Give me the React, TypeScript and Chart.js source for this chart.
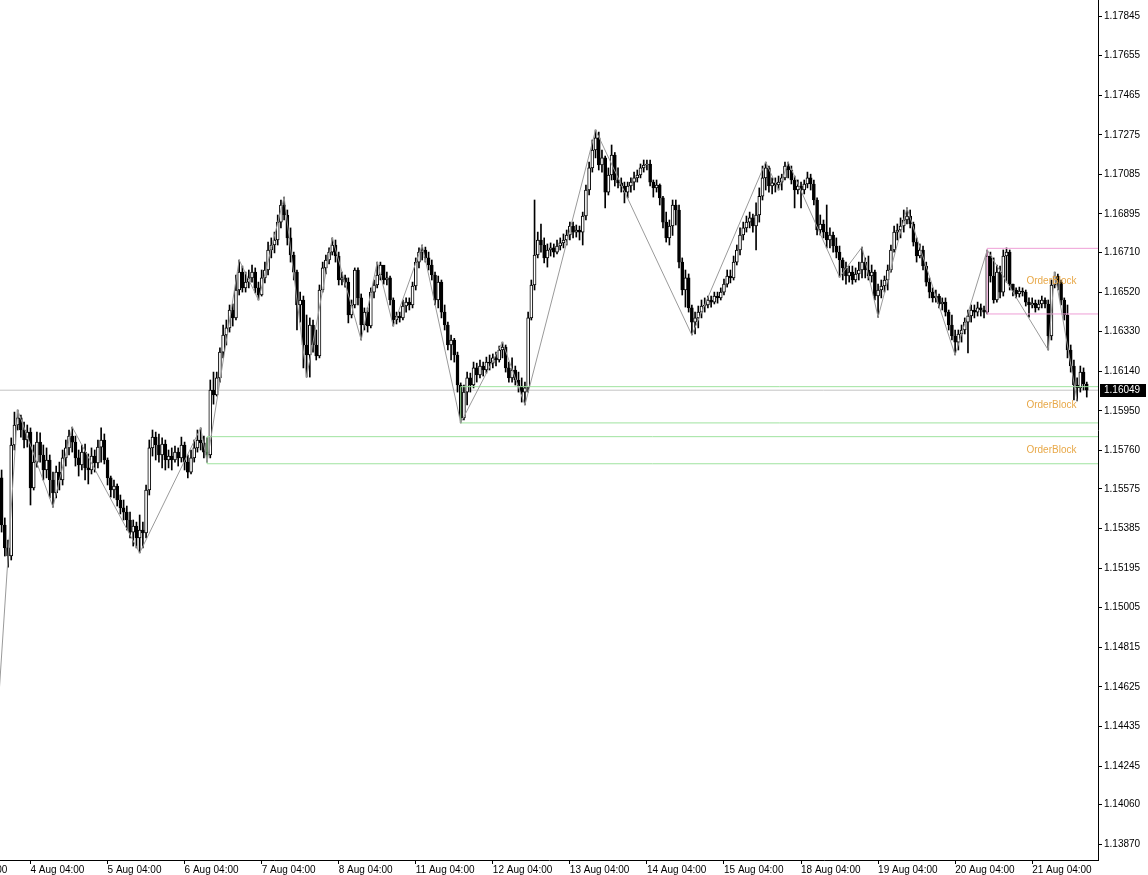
import React, { useEffect, useRef } from 'react';
import { Chart, registerables } from 'chart.js';

Chart.register(...registerables);

// EURUSD H1 candles (1 Aug 19:00 .. 21 Aug 21:00)
const firstOpen = 1.15628;
const closes = [
  1.15402, 1.15292, 1.15253, 1.15786, 1.15882, 1.15916, 1.15858, 1.15810, 1.15848, 1.15580,
  1.15704, 1.15800, 1.15738, 1.15666, 1.15714, 1.15618, 1.15556, 1.15656, 1.15618, 1.15724,
  1.15772, 1.15829, 1.15800, 1.15724, 1.15690, 1.15752, 1.15676, 1.15666, 1.15733, 1.15700,
  1.15776, 1.15810, 1.15714, 1.15628, 1.15570, 1.15589, 1.15522, 1.15484, 1.15464, 1.15426,
  1.15368, 1.15397, 1.15340, 1.15378, 1.15364, 1.15570, 1.15772, 1.15824, 1.15786, 1.15738,
  1.15791, 1.15714, 1.15733, 1.15714, 1.15752, 1.15724, 1.15786, 1.15704, 1.15656, 1.15724,
  1.15772, 1.15810, 1.15796, 1.15752, 1.15738, 1.16050, 1.16026, 1.16108, 1.16232, 1.16314,
  1.16348, 1.16434, 1.16396, 1.16530, 1.16616, 1.16540, 1.16568, 1.16588, 1.16616, 1.16540,
  1.16506, 1.16588, 1.16626, 1.16722, 1.16746, 1.16770, 1.16856, 1.16938, 1.16890, 1.16780,
  1.16698, 1.16616, 1.16458, 1.16482, 1.16266, 1.16218, 1.16362, 1.16266, 1.16213, 1.16530,
  1.16636, 1.16674, 1.16712, 1.16746, 1.16693, 1.16578, 1.16588, 1.16568, 1.16410, 1.16458,
  1.16626, 1.16492, 1.16362, 1.16424, 1.16357, 1.16520, 1.16554, 1.16602, 1.16650, 1.16578,
  1.16588, 1.16482, 1.16386, 1.16405, 1.16396, 1.16453, 1.16472, 1.16458, 1.16549, 1.16664,
  1.16712, 1.16722, 1.16684, 1.16650, 1.16602, 1.16482, 1.16568, 1.16424, 1.16362, 1.16266,
  1.16290, 1.16218, 1.16074, 1.15916, 1.16040, 1.16108, 1.16074, 1.16156, 1.16122, 1.16165,
  1.16146, 1.16184, 1.16179, 1.16204, 1.16194, 1.16242, 1.16256, 1.16156, 1.16108, 1.16146,
  1.16098, 1.16069, 1.16040, 1.16060, 1.16396, 1.16554, 1.16698, 1.16770, 1.16746, 1.16684,
  1.16722, 1.16732, 1.16712, 1.16741, 1.16756, 1.16770, 1.16794, 1.16837, 1.16808, 1.16818,
  1.16808, 1.16885, 1.17010, 1.17116, 1.17202, 1.17260, 1.17130, 1.17164, 1.17000, 1.17082,
  1.17178, 1.17058, 1.17044, 1.17029, 1.17000, 1.17029, 1.17048, 1.17068, 1.17082, 1.17116,
  1.17130, 1.17135, 1.17048, 1.17020, 1.17034, 1.16972, 1.16856, 1.16780, 1.16837, 1.16938,
  1.16914, 1.16664, 1.16530, 1.16588, 1.16444, 1.16376, 1.16396, 1.16424, 1.16453, 1.16458,
  1.16482, 1.16472, 1.16501, 1.16492, 1.16520, 1.16558, 1.16597, 1.16588, 1.16664, 1.16722,
  1.16794, 1.16828, 1.16856, 1.16876, 1.16837, 1.16890, 1.16980, 1.17068, 1.17116, 1.17029,
  1.17044, 1.17034, 1.17048, 1.17068, 1.17125, 1.17106, 1.17058, 1.17010, 1.17029, 1.17010,
  1.17039, 1.17068, 1.17039, 1.16962, 1.16818, 1.16847, 1.16808, 1.16770, 1.16794, 1.16741,
  1.16712, 1.16674, 1.16636, 1.16597, 1.16616, 1.16578, 1.16607, 1.16626, 1.16664, 1.16626,
  1.16597, 1.16616, 1.16501, 1.16530, 1.16549, 1.16578, 1.16626, 1.16722, 1.16808, 1.16818,
  1.16837, 1.16866, 1.16885, 1.16847, 1.16760, 1.16693, 1.16722, 1.16645, 1.16568, 1.16520,
  1.16492, 1.16501, 1.16463, 1.16472, 1.16424, 1.16362, 1.16309, 1.16280, 1.16319, 1.16338,
  1.16376, 1.16405, 1.16434, 1.16424, 1.16444, 1.16434, 1.16424, 1.16693, 1.16597, 1.16482,
  1.16616, 1.16520, 1.16693, 1.16712, 1.16558, 1.16530, 1.16511, 1.16525, 1.16520, 1.16472,
  1.16458, 1.16467, 1.16444, 1.16463, 1.16482, 1.16463, 1.16309, 1.16554, 1.16597, 1.16568,
  1.16482, 1.16410, 1.16242, 1.16165, 1.16074, 1.16060, 1.16136, 1.16079, 1.16049,
];
const highs = [
  1.15666, 1.15436, 1.15330, 1.15820, 1.15944, 1.15954, 1.15930, 1.15896, 1.15882, 1.15868,
  1.15786, 1.15848, 1.15844, 1.15786, 1.15772, 1.15738, 1.15656, 1.15685, 1.15704, 1.15762,
  1.15810, 1.15858, 1.15872, 1.15829, 1.15762, 1.15786, 1.15791, 1.15743, 1.15772, 1.15762,
  1.15810, 1.15868, 1.15839, 1.15724, 1.15637, 1.15618, 1.15599, 1.15546, 1.15522, 1.15493,
  1.15464, 1.15426, 1.15416, 1.15450, 1.15416, 1.15594, 1.15810, 1.15858, 1.15848, 1.15839,
  1.15820, 1.15810, 1.15762, 1.15772, 1.15781, 1.15772, 1.15824, 1.15800, 1.15738, 1.15762,
  1.15810, 1.15858, 1.15868, 1.15829, 1.15820, 1.16098, 1.16136, 1.16136, 1.16252, 1.16362,
  1.16386, 1.16458, 1.16463, 1.16602, 1.16674, 1.16645, 1.16616, 1.16626, 1.16650, 1.16636,
  1.16568, 1.16626, 1.16664, 1.16760, 1.16780, 1.16808, 1.16890, 1.16962, 1.16976, 1.16914,
  1.16828, 1.16712, 1.16626, 1.16520, 1.16501, 1.16410, 1.16396, 1.16386, 1.16338, 1.16554,
  1.16664, 1.16698, 1.16732, 1.16780, 1.16770, 1.16712, 1.16616, 1.16602, 1.16588, 1.16482,
  1.16636, 1.16636, 1.16511, 1.16444, 1.16444, 1.16540, 1.16578, 1.16664, 1.16664, 1.16645,
  1.16616, 1.16597, 1.16492, 1.16424, 1.16424, 1.16482, 1.16492, 1.16492, 1.16568, 1.16684,
  1.16732, 1.16746, 1.16736, 1.16712, 1.16674, 1.16616, 1.16597, 1.16578, 1.16458, 1.16376,
  1.16314, 1.16298, 1.16232, 1.16084, 1.16074, 1.16136, 1.16131, 1.16184, 1.16179, 1.16194,
  1.16184, 1.16208, 1.16218, 1.16223, 1.16232, 1.16261, 1.16280, 1.16266, 1.16184, 1.16204,
  1.16165, 1.16136, 1.16108, 1.16088, 1.16424, 1.16578, 1.16962, 1.16808, 1.16847, 1.16780,
  1.16751, 1.16756, 1.16751, 1.16770, 1.16780, 1.16799, 1.16818, 1.16856, 1.16856, 1.16842,
  1.16837, 1.16904, 1.17034, 1.17144, 1.17250, 1.17298, 1.17288, 1.17202, 1.17173, 1.17116,
  1.17226, 1.17190, 1.17116, 1.17068, 1.17048, 1.17048, 1.17068, 1.17096, 1.17106, 1.17135,
  1.17154, 1.17154, 1.17154, 1.17058, 1.17058, 1.17039, 1.16980, 1.16904, 1.16866, 1.16962,
  1.16962, 1.16938, 1.16684, 1.16626, 1.16607, 1.16458, 1.16424, 1.16453, 1.16482, 1.16492,
  1.16501, 1.16501, 1.16520, 1.16520, 1.16540, 1.16583, 1.16626, 1.16626, 1.16693, 1.16746,
  1.16828, 1.16856, 1.16885, 1.16904, 1.16895, 1.16948, 1.17020, 1.17125, 1.17144, 1.17125,
  1.17068, 1.17068, 1.17077, 1.17086, 1.17144, 1.17144, 1.17125, 1.17077, 1.17058, 1.17048,
  1.17058, 1.17096, 1.17086, 1.17058, 1.16972, 1.16890, 1.16866, 1.16938, 1.16828, 1.16808,
  1.16780, 1.16741, 1.16684, 1.16664, 1.16645, 1.16645, 1.16636, 1.16664, 1.16736, 1.16684,
  1.16693, 1.16650, 1.16626, 1.16558, 1.16578, 1.16597, 1.16650, 1.16746, 1.16837, 1.16847,
  1.16876, 1.16914, 1.16924, 1.16914, 1.16856, 1.16780, 1.16751, 1.16741, 1.16664, 1.16588,
  1.16540, 1.16530, 1.16511, 1.16492, 1.16492, 1.16434, 1.16410, 1.16338, 1.16338, 1.16362,
  1.16396, 1.16434, 1.16458, 1.16458, 1.16472, 1.16463, 1.16453, 1.16722, 1.16712, 1.16684,
  1.16650, 1.16645, 1.16722, 1.16732, 1.16722, 1.16558, 1.16540, 1.16544, 1.16540, 1.16530,
  1.16492, 1.16492, 1.16482, 1.16482, 1.16501, 1.16492, 1.16482, 1.16578, 1.16616, 1.16607,
  1.16578, 1.16492, 1.16458, 1.16266, 1.16194, 1.16108, 1.16165, 1.16156, 1.16088,
];
const lows = [
  1.15368, 1.15253, 1.15200, 1.15234, 1.15762, 1.15858, 1.15824, 1.15772, 1.15776, 1.15498,
  1.15570, 1.15680, 1.15704, 1.15618, 1.15628, 1.15532, 1.15488, 1.15532, 1.15570, 1.15594,
  1.15685, 1.15738, 1.15752, 1.15685, 1.15637, 1.15666, 1.15618, 1.15599, 1.15647, 1.15656,
  1.15676, 1.15704, 1.15695, 1.15594, 1.15536, 1.15532, 1.15493, 1.15455, 1.15426, 1.15378,
  1.15340, 1.15301, 1.15292, 1.15268, 1.15292, 1.15340, 1.15546, 1.15733, 1.15714, 1.15704,
  1.15676, 1.15666, 1.15676, 1.15666, 1.15704, 1.15685, 1.15704, 1.15666, 1.15628, 1.15647,
  1.15704, 1.15752, 1.15762, 1.15724, 1.15704, 1.15724, 1.15982, 1.16021, 1.16088, 1.16204,
  1.16266, 1.16328, 1.16357, 1.16386, 1.16506, 1.16520, 1.16520, 1.16540, 1.16568, 1.16516,
  1.16482, 1.16501, 1.16564, 1.16602, 1.16684, 1.16708, 1.16746, 1.16828, 1.16866, 1.16746,
  1.16664, 1.16578, 1.16338, 1.16376, 1.16156, 1.16112, 1.16112, 1.16232, 1.16194, 1.16204,
  1.16520, 1.16607, 1.16655, 1.16698, 1.16664, 1.16554, 1.16554, 1.16544, 1.16372, 1.16396,
  1.16444, 1.16458, 1.16290, 1.16338, 1.16328, 1.16348, 1.16492, 1.16540, 1.16578, 1.16558,
  1.16554, 1.16458, 1.16357, 1.16367, 1.16376, 1.16386, 1.16424, 1.16434, 1.16444, 1.16530,
  1.16636, 1.16674, 1.16664, 1.16626, 1.16578, 1.16458, 1.16444, 1.16396, 1.16338, 1.16242,
  1.16194, 1.16184, 1.16040, 1.15892, 1.15906, 1.15978, 1.16040, 1.16060, 1.16088, 1.16108,
  1.16117, 1.16131, 1.16146, 1.16156, 1.16165, 1.16184, 1.16204, 1.16136, 1.16088, 1.16088,
  1.16074, 1.16040, 1.15992, 1.15978, 1.16040, 1.16386, 1.16530, 1.16684, 1.16712, 1.16660,
  1.16640, 1.16693, 1.16688, 1.16703, 1.16722, 1.16732, 1.16746, 1.16770, 1.16780, 1.16784,
  1.16770, 1.16746, 1.16866, 1.16986, 1.17096, 1.17164, 1.17106, 1.17096, 1.16924, 1.16986,
  1.17058, 1.17029, 1.17020, 1.17000, 1.16948, 1.16972, 1.17000, 1.17010, 1.17048, 1.17068,
  1.17096, 1.17106, 1.17029, 1.16976, 1.17000, 1.16938, 1.16828, 1.16760, 1.16746, 1.16792,
  1.16842, 1.16636, 1.16506, 1.16448, 1.16424, 1.16314, 1.16319, 1.16348, 1.16396, 1.16424,
  1.16444, 1.16448, 1.16463, 1.16467, 1.16482, 1.16506, 1.16544, 1.16564, 1.16578, 1.16650,
  1.16698, 1.16770, 1.16808, 1.16828, 1.16808, 1.16722, 1.16856, 1.16962, 1.17010, 1.17000,
  1.16991, 1.17000, 1.17010, 1.17010, 1.17058, 1.17068, 1.17039, 1.16924, 1.16991, 1.16924,
  1.16991, 1.17020, 1.17010, 1.16938, 1.16794, 1.16794, 1.16780, 1.16732, 1.16732, 1.16712,
  1.16684, 1.16592, 1.16578, 1.16558, 1.16568, 1.16558, 1.16568, 1.16578, 1.16588, 1.16588,
  1.16578, 1.16568, 1.16482, 1.16400, 1.16492, 1.16520, 1.16530, 1.16616, 1.16712, 1.16770,
  1.16780, 1.16808, 1.16847, 1.16828, 1.16741, 1.16664, 1.16684, 1.16626, 1.16549, 1.16492,
  1.16472, 1.16472, 1.16444, 1.16434, 1.16405, 1.16338, 1.16290, 1.16218, 1.16242, 1.16280,
  1.16319, 1.16228, 1.16376, 1.16396, 1.16405, 1.16405, 1.16396, 1.16415, 1.16568, 1.16467,
  1.16472, 1.16492, 1.16501, 1.16568, 1.16530, 1.16501, 1.16492, 1.16496, 1.16501, 1.16453,
  1.16400, 1.16444, 1.16424, 1.16434, 1.16444, 1.16444, 1.16242, 1.16290, 1.16540, 1.16530,
  1.16458, 1.16386, 1.16204, 1.16136, 1.16002, 1.15997, 1.16040, 1.16050, 1.16016,
];

const currentPrice = 1.16049;
const emptyBarsRight = 3;

// time axis: bar index of each labelled hour and its text
const dateTickBars = [-15, 9, 33, 57, 81, 105, 129, 153, 177, 201, 225, 249, 273, 297, 321];
const dateTickLabels = [
  '1 Aug 04:00', '4 Aug 04:00', '5 Aug 04:00', '6 Aug 04:00', '7 Aug 04:00', '8 Aug 04:00',
  '11 Aug 04:00', '12 Aug 04:00', '13 Aug 04:00', '14 Aug 04:00', '15 Aug 04:00',
  '18 Aug 04:00', '19 Aug 04:00', '20 Aug 04:00', '21 Aug 04:00',
];
const priceTicks = [
  1.1387, 1.1406, 1.14245, 1.14435, 1.14625, 1.14815, 1.15005, 1.15195, 1.15385, 1.15575,
  1.1576, 1.1595, 1.1614, 1.1633, 1.1652, 1.1671, 1.16895, 1.17085, 1.17275, 1.17465,
  1.17655, 1.17845,
];

// ZigZag swing points (bar index, price)
const zigzagBars = [-4, 5, 16, 22, 43, 62, 64, 74, 80, 88, 95, 103, 112, 117, 122, 131, 143, 156, 163, 185, 215, 238, 242, 245, 261, 268, 273, 282, 297, 307, 326, 328, 335];
const zigzagPrices = [1.13837, 1.15954, 1.15488, 1.15872, 1.15268, 1.15868, 1.15704, 1.16674, 1.16482, 1.16976, 1.16112, 1.1678, 1.1629, 1.16664, 1.16357, 1.16746, 1.15892, 1.1628, 1.15978, 1.17298, 1.16314, 1.17144, 1.1701, 1.17144, 1.16592, 1.16736, 1.164, 1.16924, 1.16218, 1.16722, 1.16242, 1.16616, 1.15997];

// Order blocks
const obStartBars = [307, 143, 64];
const obTops = [1.1673, 1.16066, 1.15826];
const obBottoms = [1.16415, 1.15892, 1.15696];
const obColors = ['#ee9fd6', '#9fe39f', '#9fe39f'];
const obLabel = 'OrderBlock';
const obLabelBar = 327;

const FONT = '"Liberation Sans", Arial, sans-serif';

export default function App() {
  const ref = useRef<HTMLCanvasElement | null>(null);

  useEffect(() => {
    const canvas = ref.current;
    if (!canvas) return;
    const N = closes.length + emptyBarsRight;
    const opens = closes.map((c, i) => (i === 0 ? firstOpen : closes[i - 1]));
    const wicks = highs.map((h, i) => [lows[i], h]);
    const bodies = closes.map((c, i) => [opens[i], c]);
    const bodyFill = closes.map((c, i) => (c >= opens[i] ? '#ffffff' : '#000000'));

    const lineDs = (points: any[], color: string, order: number) => ({
      type: 'line',
      xAxisID: 'xz',
      yAxisID: 'y',
      data: points,
      borderColor: color,
      backgroundColor: color,
      borderWidth: 1,
      pointRadius: 0,
      pointHoverRadius: 0,
      fill: false,
      tension: 0,
      order,
    });

    const boxSets: any[] = [];
    obStartBars.forEach((b, k) => {
      boxSets.push(lineDs([{ x: b, y: obTops[k] }, { x: N - 0.5, y: obTops[k] }], obColors[k], 3));
      boxSets.push(lineDs([{ x: b, y: obBottoms[k] }, { x: N - 0.5, y: obBottoms[k] }], obColors[k], 3));
      boxSets.push(lineDs([{ x: b, y: obBottoms[k] }, { x: b, y: obTops[k] }], obColors[k], 3));
    });

    const zigzag = zigzagBars.map((b, i) => ({ x: b, y: zigzagPrices[i] }));

    const overlay = {
      id: 'overlay',
      afterDatasetsDraw(chart: any) {
        const { ctx } = chart;
        const xs = chart.scales.xz;
        const ys = chart.scales.y;
        ctx.save();
        ctx.font = '10px ' + FONT;
        ctx.fillStyle = '#e8a848';
        ctx.textAlign = 'center';
        ctx.textBaseline = 'middle';
        obTops.forEach((t, k) => {
          ctx.fillText(obLabel, xs.getPixelForValue(obLabelBar), ys.getPixelForValue((t + obBottoms[k]) / 2));
        });
        ctx.restore();
      },
      afterDraw(chart: any) {
        const { ctx, chartArea } = chart;
        const ys = chart.scales.y;
        const y = ys.getPixelForValue(currentPrice);
        ctx.save();
        ctx.fillStyle = '#000000';
        ctx.fillRect(chartArea.right + 2, Math.round(y) - 6, 46, 13);
        ctx.fillStyle = '#ffffff';
        ctx.font = '10px ' + FONT;
        ctx.textAlign = 'left';
        ctx.textBaseline = 'middle';
        ctx.fillText(currentPrice.toFixed(5), chartArea.right + 6, Math.round(y) + 0.5);
        ctx.restore();
      },
    };

    const chart = new Chart(canvas, {
      type: 'bar',
      data: {
        labels: Array.from({ length: N }, (_, i) => String(i)),
        datasets: [
          {
            type: 'bar',
            data: wicks,
            backgroundColor: '#000000',
            borderWidth: 0,
            barThickness: 1,
            grouped: false,
            order: 10,
            xAxisID: 'x',
            yAxisID: 'y',
          },
          {
            type: 'bar',
            data: bodies,
            backgroundColor: bodyFill,
            borderColor: '#000000',
            borderWidth: 1,
            borderSkipped: false,
            barThickness: 3,
            grouped: false,
            order: 9,
            xAxisID: 'x',
            yAxisID: 'y',
          },
          lineDs([{ x: -0.5, y: currentPrice }, { x: N - 0.5, y: currentPrice }], '#c4c4c4', 11),
          ...boxSets,
          lineDs(zigzag, '#9a9a9a', 1),
        ] as any,
      },
      options: {
        responsive: false,
        maintainAspectRatio: false,
        animation: false,
        devicePixelRatio: 1,
        events: [],
        layout: { padding: 0 },
        plugins: { legend: { display: false }, tooltip: { enabled: false } },
        scales: {
          x: { type: 'category', display: false, offset: true },
          xz: {
            type: 'linear',
            position: 'bottom',
            offset: false,
            min: -0.5,
            max: N - 0.5,
            afterBuildTicks: (scale: any) => {
              scale.ticks = dateTickBars.map((v) => ({ value: v }));
            },
            afterFit: (scale: any) => {
              scale.height = 15;
              scale.paddingLeft = 0;
              scale.paddingRight = 0;
            },
            grid: { drawOnChartArea: false, tickLength: 4, color: '#000000', offset: false },
            border: { display: true, color: '#000000', width: 1 },
            ticks: {
              autoSkip: false,
              maxRotation: 0,
              minRotation: 0,
              align: 'start',
              padding: 0,
              color: '#000000',
              font: { family: FONT, size: 10 },
              callback: (value: any) => {
                const k = dateTickBars.indexOf(Number(value));
                return k >= 0 ? dateTickLabels[k] : '';
              },
            },
          },
          y: {
            type: 'linear',
            position: 'right',
            min: 1.13794,
            max: 1.17922,
            afterBuildTicks: (scale: any) => {
              scale.ticks = priceTicks.map((v) => ({ value: v }));
            },
            afterFit: (scale: any) => {
              scale.width = 50;
              scale.paddingTop = 0;
              scale.paddingBottom = 0;
            },
            grid: { drawOnChartArea: false, tickLength: 4, color: '#000000' },
            border: { display: true, color: '#000000', width: 1 },
            ticks: {
              autoSkip: false,
              padding: 2,
              color: '#000000',
              font: { family: FONT, size: 10 },
              callback: (value: any) => Number(value).toFixed(5),
            },
          },
        },
      } as any,
      plugins: [overlay],
    });

    return () => chart.destroy();
  }, []);

  return (
    <div style={{ position: 'absolute', left: 0, top: 0, width: 1148, height: 875, background: '#ffffff' }}>
      <canvas ref={ref} width={1148} height={875} style={{ display: 'block' }} />
    </div>
  );
}
